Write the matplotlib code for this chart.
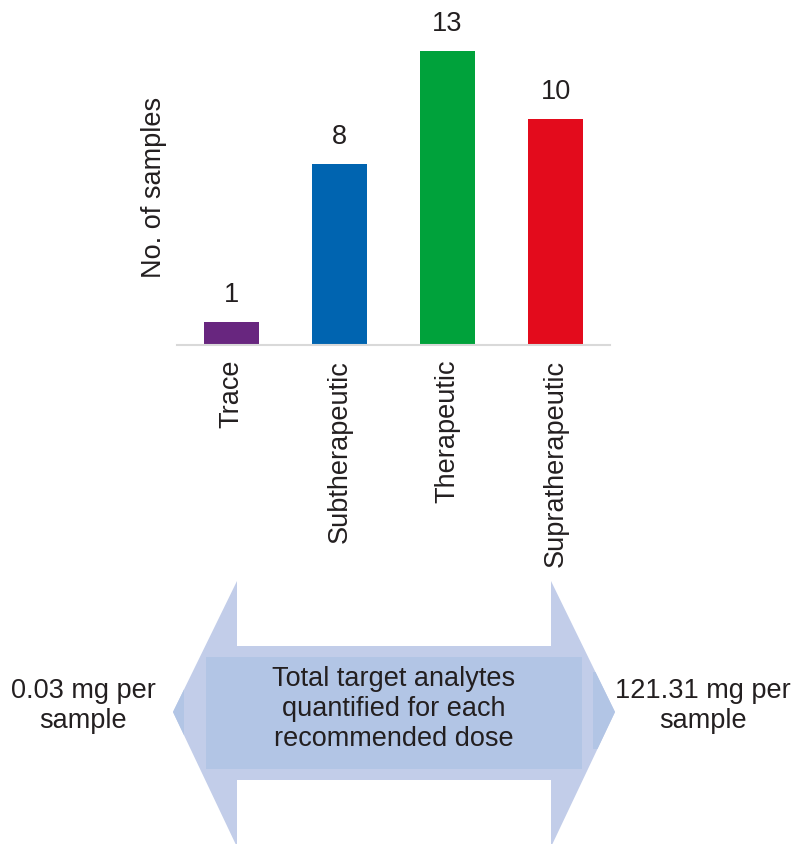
import matplotlib
matplotlib.use("Agg")
import matplotlib.pyplot as plt
from matplotlib.patches import Polygon, Rectangle

plt.rcParams['font.family'] = ['Liberation Sans', 'DejaVu Sans']

categories = ["Trace", "Subtherapeutic", "Therapeutic", "Supratherapeutic"]
counts = [1, 8, 13, 10]
bar_colors = ["#68267f", "#0064b0", "#00a23b", "#e30b1c"]
ylabel = "No. of samples"
arrow_text = "Total target analytes\nquantified for each\nrecommended dose"
low_text = "0.03 mg per\nsample"
high_text = "121.31 mg per\nsample"

W, H = 792, 845
fig = plt.figure(figsize=(W / 100, H / 100), dpi=100)
fs = 19.5
text_color = "#231f20"

# Bar chart
ax = fig.add_axes([177 / W, (H - 346) / H, 433 / W, 316.4 / H])
x = range(len(categories))
bars = ax.bar(x, counts, width=0.51, color=bar_colors)
ax.set_xlim(-0.5, len(categories) - 0.5)
ax.set_ylim(0, 14)
ax.set_xticks(list(x))
ax.set_xticklabels(categories, rotation=90, fontsize=fs, color=text_color)
ax.tick_params(axis='x', length=0, pad=10)
ax.set_yticks([])
for s in ("top", "right", "left"):
    ax.spines[s].set_visible(False)
ax.spines["bottom"].set_color("#d9d9d9")
ax.spines["bottom"].set_linewidth(1.5)
ax.set_ylabel(ylabel, fontsize=fs, color=text_color)
ax.yaxis.set_label_coords(-0.022, 0.5)
for b, v in zip(bars, counts):
    ax.annotate(str(v), (b.get_x() + b.get_width() / 2, v), xytext=(0, 11),
                textcoords="offset points", ha="center", va="bottom",
                fontsize=fs, color=text_color)

# Double-headed arrow below the chart, in pixel coordinates
ov = fig.add_axes([0, 0, 1, 1], zorder=-1)
ov.set_xlim(0, W)
ov.set_ylim(H, 0)
ov.axis("off")
cy = 713
arrow_pts = [(173, cy), (237, 582), (237, 647), (551, 647), (551, 582),
             (615, cy), (551, 848), (551, 781), (237, 781), (237, 848)]
arrow = Polygon(arrow_pts, closed=True, facecolor="#c2cde9", edgecolor="none")
ov.add_patch(arrow)
for rx0, rx1 in ((150, 184), (593, 640)):
    r = Rectangle((rx0, 673), rx1 - rx0, 77, facecolor="#b2c5e5", edgecolor="none")
    ov.add_patch(r)
    r.set_clip_path(arrow)
ov.add_patch(Rectangle((206, 658), 376, 112, facecolor="#b2c5e5", edgecolor="none"))
ov.text(394, 709, arrow_text, ha="center", va="center", fontsize=fs,
        color=text_color, linespacing=1.2)
ov.text(83, 706, low_text, ha="center", va="center", fontsize=fs,
        color=text_color, linespacing=1.2)
ov.text(703, 706, high_text, ha="center", va="center", fontsize=fs,
        color=text_color, linespacing=1.2)

fig.savefig("out.png", dpi=100)
